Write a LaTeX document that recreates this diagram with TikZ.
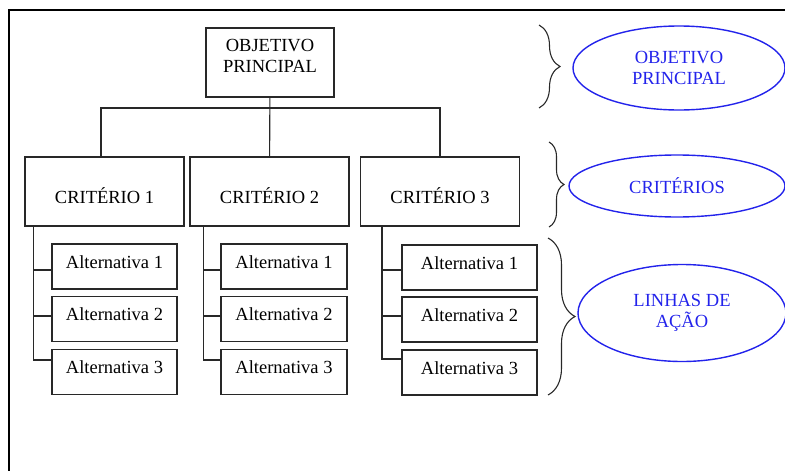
\documentclass[tikz,border=0pt]{standalone}
\usepackage{fontspec}
\setmainfont{Liberation Serif}
\usepackage{xcolor}
\usetikzlibrary{shapes.geometric, decorations.pathreplacing, positioning}
\definecolor{boxgray}{RGB}{40,40,40}
\definecolor{lblue}{RGB}{35,35,235}

\begin{document}
\begin{tikzpicture}[x=1pt,y=-1pt,font=\fontsize{18.5}{21}\selectfont]
    \tikzstyle{goal}=[shape=rectangle,draw=boxgray,line width=1.1pt,minimum width=128pt,minimum height=69pt]
    \tikzstyle{crit}=[shape=rectangle,draw=boxgray,line width=1.1pt,minimum width=159pt,minimum height=69pt,text height=24pt,text depth=0.8pt]
    \tikzstyle{alt}=[shape=rectangle,draw=boxgray,line width=1.1pt,minimum width=125pt,minimum height=45pt,text height=12pt,text depth=8.8pt]
    \tikzstyle{level}=[shape=ellipse,draw=lblue,line width=1.4pt,text=lblue,align=center,inner sep=0pt]
    \tikzstyle{grp}=[decorate,draw=boxgray,line width=1.1pt]
    \tikzstyle{tree}=[draw=boxgray,line width=1.1pt]

    \useasboundingbox (0,0) rectangle (785,471);
    \draw[line width=1.1pt] (9,471) |- (785,10);

    \node[goal,label={[yshift=6.5pt,align=center]center:OBJETIVO\\PRINCIPAL}] (O) at (270,62.5) {};
    \node[crit] (C1) at (104.5,191.5) {CRITÉRIO 1};
    \node[crit] (C2) at (269.5,191.5) {CRITÉRIO 2};
    \node[crit] (C3) at (440,191.5) {CRITÉRIO 3};

    \node[alt] (A11) at (114.5,266.5) {Alternativa 1};
    \node[alt] (A12) at (114.5,319) {Alternativa 2};
    \node[alt] (A13) at (114.5,372) {Alternativa 3};
    \node[alt,minimum width=126pt] (A21) at (284,266.5) {Alternativa 1};
    \node[alt,minimum width=126pt] (A22) at (284,319) {Alternativa 2};
    \node[alt,minimum width=126pt] (A23) at (284,372) {Alternativa 3};
    \node[alt,minimum width=135pt] (A31) at (469.5,267.5) {Alternativa 1};
    \node[alt,minimum width=135pt] (A32) at (469.5,319.5) {Alternativa 2};
    \node[alt,minimum width=135pt] (A33) at (469.5,372.5) {Alternativa 3};

    \node[level,minimum width=212pt,minimum height=84pt] (L1) at (679,68) {OBJETIVO\\PRINCIPAL};
    \node[level,minimum width=216pt,minimum height=62pt] (L2) at (677,186) {CRITÉRIOS};
    \node[level,minimum width=208pt,minimum height=97pt] (L3) at (682,313) {LINHAS DE\\AÇÃO};

    \coordinate (hub) at (270,108);
    \coordinate (B1a) at (539,25);
    \coordinate (B1b) at (539,108);
    \coordinate (B2a) at (549,142);
    \coordinate (B2b) at (549,227);
    \coordinate (B3a) at (548,238);
    \coordinate (B3b) at (548,395);

    % objective to criteria
    \draw[tree] (O) -- (C2);
    \draw[tree] ([xshift=-3.5pt]C1.north) |- (hub) -| (C3.north);

    % criteria to alternatives
    \draw[tree] ([xshift=9pt]C1.south west) |- ([yshift=-3.5pt]A11.west);
    \draw[tree] ([xshift=9pt]C1.south west) |- ([yshift=3pt]A12.west);
    \draw[tree] ([xshift=9pt]C1.south west) |- ([yshift=12pt]A13.west);
    \draw[tree] ([xshift=14pt]C2.south west) |- ([yshift=-3.5pt]A21.west);
    \draw[tree] ([xshift=14pt]C2.south west) |- ([yshift=3pt]A22.west);
    \draw[tree] ([xshift=14pt]C2.south west) |- ([yshift=12pt]A23.west);
    \draw[tree] ([xshift=22pt]C3.south west) |- ([yshift=-2.5pt]A31.west);
    \draw[tree] ([xshift=22pt]C3.south west) |- ([yshift=3.5pt]A32.west);
    \draw[tree] ([xshift=22pt]C3.south west) |- ([yshift=13.5pt]A33.west);

    % braces
    \draw[grp,decoration={brace,amplitude=21pt}] (B1a) -- (B1b);
    \draw[grp,decoration={brace,amplitude=15pt}] (B2a) -- (B2b);
    \draw[grp,decoration={brace,amplitude=27pt}] (B3a) -- (B3b);
\end{tikzpicture}
\end{document}
